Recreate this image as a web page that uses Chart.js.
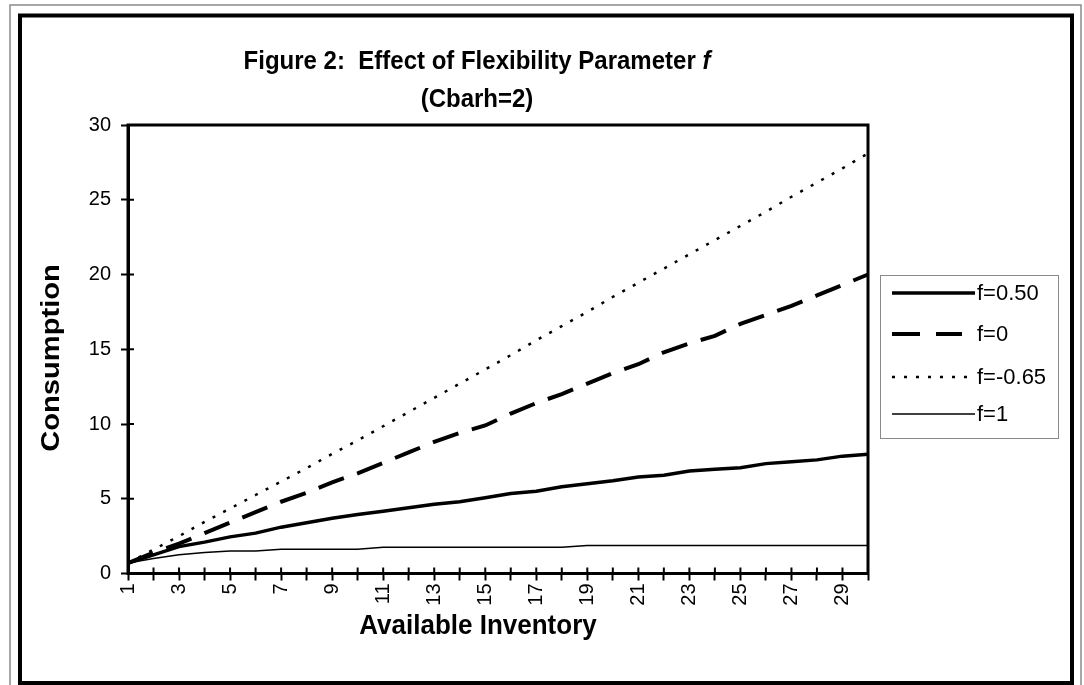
<!DOCTYPE html>
<html>
<head>
<meta charset="utf-8">
<script src="https://cdn.jsdelivr.net/npm/chart.js"></script>
<style>
  html, body { margin: 0; padding: 0; background: #fff; }
  canvas { display: block; }
</style>
</head>
<body>
<canvas id="flexChart" width="1084" height="685"></canvas>
<script>
// values
const inventory = [1,2,3,4,5,6,7,8,9,10,11,12,13,14,15,16,17,18,19,20,21,22,23,24,25,26,27,28,29,30];
const fHalf = [0.7,1.25,1.8,2.1,2.45,2.7,3.1,3.4,3.7,3.95,4.17,4.4,4.63,4.8,5.07,5.35,5.5,5.8,6.0,6.2,6.45,6.57,6.85,6.97,7.08,7.35,7.48,7.6,7.85,7.97];
const fZero = [0.7,1.4,2.0,2.7,3.4,4.1,4.8,5.4,6.1,6.7,7.4,8.1,8.8,9.4,9.9,10.7,11.4,12.0,12.7,13.4,14.0,14.8,15.4,15.9,16.7,17.3,17.9,18.6,19.3,20.0];
const fNeg = [0.7,1.6,2.5,3.45,4.35,5.25,6.15,7.05,8.0,8.9,9.85,10.8,11.75,12.7,13.65,14.6,15.6,16.55,17.5,18.5,19.45,20.4,21.35,22.3,23.25,24.2,25.2,26.15,27.1,28.1];
const fOne = [0.7,1.0,1.25,1.4,1.5,1.5,1.63,1.63,1.63,1.63,1.75,1.75,1.75,1.75,1.75,1.75,1.75,1.75,1.88,1.88,1.88,1.88,1.88,1.88,1.88,1.88,1.88,1.88,1.88,1.88];
const seriesNames = ["f=0.50", "f=0", "f=-0.65", "f=1"];
const yTicks = [0, 5, 10, 15, 20, 25, 30];

const FONT = "'Liberation Sans', Arial, sans-serif";

// text drawn a little taller than wide, like the original
function tallText(ctx, text, x, y, sy) {
  ctx.save();
  ctx.translate(x, y);
  ctx.scale(1, sy);
  ctx.fillText(text, 0, 0);
  ctx.restore();
}

// frame, titles, legend and inner tick halves
const decorations = {
  id: "decorations",
  afterDraw(chart) {
    const ctx = chart.ctx;
    const a = chart.chartArea;
    const xs = chart.scales.x, ys = chart.scales.y;
    ctx.save();

    // outer frames
    ctx.strokeStyle = "#8a8a8a";
    ctx.lineWidth = 1.5;
    ctx.strokeRect(10, 5, 1071, 690);
    ctx.strokeStyle = "#000";
    ctx.lineWidth = 4;
    ctx.strokeRect(20, 15.5, 1052, 667.5);

    // plot box
    ctx.lineWidth = 3;
    ctx.strokeRect(a.left, a.top, a.right - a.left, a.bottom - a.top);

    // ticks crossing into the plot
    ctx.lineWidth = 2;
    ctx.beginPath();
    xs.ticks.forEach((t, i) => {
      const px = xs.getPixelForTick(i);
      ctx.moveTo(px, a.bottom);
      ctx.lineTo(px, a.bottom - 6);
    });
    ys.ticks.forEach((t, i) => {
      const py = ys.getPixelForTick(i);
      ctx.moveTo(a.left, py);
      ctx.lineTo(a.left + 6, py);
    });
    ctx.stroke();

    // titles
    ctx.fillStyle = "#000";
    ctx.textBaseline = "middle";
    ctx.font = "bold 24px " + FONT;
    const t1 = "Figure 2:  Effect of Flexibility Parameter ";
    const w1 = ctx.measureText(t1).width;
    ctx.font = "bold italic 24px " + FONT;
    const w2 = ctx.measureText("f").width;
    const start = 477 - (w1 + w2) / 2;
    ctx.textAlign = "left";
    ctx.font = "bold 24px " + FONT;
    tallText(ctx, t1, start, 62, 1.08);
    ctx.font = "bold italic 24px " + FONT;
    tallText(ctx, "f", start + w1, 62, 1.08);
    ctx.textAlign = "center";
    ctx.font = "bold 24px " + FONT;
    tallText(ctx, "(Cbarh=2)", 477, 100, 1.08);

    ctx.font = "bold 26px " + FONT;
    tallText(ctx, "Available Inventory", 478, 626, 1.08);
    ctx.save();
    ctx.translate(52, 358);
    ctx.rotate(-Math.PI / 2);
    ctx.scale(1.12, 1);
    ctx.fillText("Consumption", 0, 0);
    ctx.restore();

    // legend
    ctx.strokeStyle = "#8a8a8a";
    ctx.lineWidth = 1;
    ctx.strokeRect(880.5, 275.5, 178, 163);
    const rows = [293, 334, 377, 414];
    chart.data.datasets.forEach((ds, i) => {
      const dash = ds.borderDash || [];
      // long dashes stop after two whole dashes
      const end = dash.length && dash[0] > 10 ? 892 + dash[0] * 2 + dash[1] + 2 : 975;
      ctx.strokeStyle = ds.borderColor;
      ctx.lineWidth = ds.borderWidth;
      ctx.setLineDash(dash.length && dash[0] > 10 ? [dash[0] + 1, dash[1] + 2] : dash);
      ctx.beginPath();
      ctx.moveTo(892, rows[i]);
      ctx.lineTo(end, rows[i]);
      ctx.stroke();
      ctx.setLineDash([]);
      ctx.fillStyle = "#000";
      ctx.textAlign = "left";
      ctx.font = "22px " + FONT;
      ctx.fillText(ds.label, 977, rows[i] + 1);
    });

    ctx.restore();
  }
};

function makeChart() {
  const ctx = document.getElementById("flexChart").getContext("2d");
  new Chart(ctx, {
    type: "line",
    data: {
      labels: inventory,
      datasets: [
        { label: seriesNames[0], data: fHalf, borderColor: "#000", borderWidth: 3.5 },
        { label: seriesNames[1], data: fZero, borderColor: "#000", borderWidth: 4, borderDash: [27, 14] },
        { label: seriesNames[2], data: fNeg, borderColor: "#000", borderWidth: 2.5, borderDash: [3, 9] },
        { label: seriesNames[3], data: fOne, borderColor: "#000", borderWidth: 1.5 }
      ]
    },
    options: {
      responsive: false,
      animation: false,
      elements: {
        point: { radius: 0 },
        line: { tension: 0, borderCapStyle: "butt" }
      },
      layout: { padding: { left: 0, right: 216, top: 125, bottom: 0 } },
      plugins: {
        legend: { display: false },
        title: { display: false },
        tooltip: { enabled: false }
      },
      scales: {
        x: {
          type: "category",
          offset: false,
          afterFit: scale => { scale.height = 111.5; },
          grid: { drawOnChartArea: false, drawTicks: true, tickLength: 7, tickWidth: 2, tickColor: "#000" },
          border: { display: true, color: "#000", width: 3 },
          ticks: {
            autoSkip: false,
            maxRotation: 90,
            minRotation: 90,
            padding: 3,
            color: "#000",
            font: { family: FONT, size: 20 },
            callback: (v, i) => (i % 2 === 0 ? inventory[i] : "")
          }
        },
        y: {
          min: yTicks[0],
          max: yTicks[yTicks.length - 1],
          afterFit: scale => { scale.width = 128; },
          afterBuildTicks: scale => { scale.ticks = yTicks.map(v => ({ value: v })); },
          grid: { drawOnChartArea: false, drawTicks: true, tickLength: 7, tickWidth: 2, tickColor: "#000" },
          border: { display: true, color: "#000", width: 3 },
          ticks: {
            padding: 10,
            color: "#000",
            font: { family: FONT, size: 20 }
          }
        }
      }
    },
    plugins: [decorations]
  });
}

makeChart();
</script>
</body>
</html>
